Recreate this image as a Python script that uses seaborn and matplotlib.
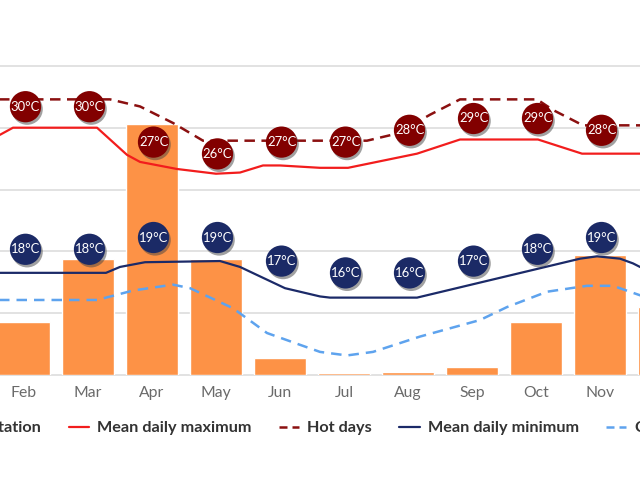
import numpy as np
import pandas as pd
import matplotlib
matplotlib.use("Agg")
import matplotlib.pyplot as plt
import matplotlib.patheffects as pe
from matplotlib.lines import Line2D
from matplotlib.patches import Patch
from matplotlib.transforms import offset_copy
import seaborn as sns

# ---------------- data ----------------
months = ["Jan", "Feb", "Mar", "Apr", "May", "Jun",
          "Jul", "Aug", "Sep", "Oct", "Nov", "Dec"]
precip_mm = [75, 42.6, 93.6, 202.8, 93.6, 13.5, 1.5, 2.7, 6.7, 42.6, 97.3, 55.3]

# labelled badge values (deg C), visible months Feb..Nov
badge_months = ["Feb", "Mar", "Apr", "May", "Jun", "Jul", "Aug", "Sep", "Oct", "Nov"]
max_labels = [30, 30, 27, 26, 27, 27, 28, 29, 29, 28]
min_labels = [18, 18, 19, 19, 17, 16, 16, 17, 18, 19]

# lines (x in month index, y in deg C)
max_x = [0.0, 0.625, 0.828, 2.141, 2.609, 2.813, 3.391, 4.0, 4.375, 4.734, 5.0,
         5.625, 6.063, 7.141, 7.813, 9.031, 9.719, 11.0]
max_t = [29.0, 29.4, 30.0, 30.0, 27.7, 27.1, 26.5, 26.1, 26.2, 26.8, 26.8,
         26.6, 26.6, 27.8, 29.0, 29.0, 27.8, 27.8]

hot_x = [0.0, 2.344, 2.813, 3.328, 3.797, 5.625, 6.359, 6.828, 7.344, 7.813,
         9.016, 9.266, 9.734, 11.0]
hot_t = [32.4, 32.4, 31.8, 30.4, 28.9, 28.9, 28.9, 29.5, 31.1, 32.4,
         32.4, 31.5, 30.2, 30.2]

min_x = [0.0, 2.281, 2.5, 2.891, 4.063, 4.375, 5.078, 5.625, 5.781, 7.141,
         9.688, 9.953, 10.313, 10.516, 10.625, 11.0]
min_t = [17.7, 17.7, 18.2, 18.6, 18.7, 18.2, 16.4, 15.7, 15.6, 15.6,
         18.9, 19.1, 18.9, 18.5, 18.2, 17.8]

cold_x = [0.0, 2.141, 2.703, 3.328, 3.594, 4.266, 4.797, 5.313, 5.625, 6.047,
          6.453, 7.188, 8.125, 8.547, 9.172, 9.797, 10.203, 10.625, 11.0]
cold_t = [15.4, 15.4, 16.2, 16.7, 16.4, 14.7, 12.6, 11.6, 11.0, 10.7,
          11.0, 12.3, 13.7, 14.8, 16.1, 16.6, 16.6, 15.8, 15.4]

legend_labels = ["Precipitation", "Mean daily maximum", "Hot days",
                 "Mean daily minimum", "Cold nights"]

# ---------------- style ----------------
C_BAR = "#fd9246"
C_MAX = "#f21d1d"
C_HOT = "#8b1010"
C_MIN = "#1b2a68"
C_COLD = "#5ea3ee"
C_BADGE_MAX = "#820000"
C_BADGE_MIN = "#1b2a66"

sns.set_theme(style="white")
plt.rcParams["font.family"] = ["Lato", "DejaVu Sans"]

W, H = 640, 480
fig = plt.figure(figsize=(W / 100, H / 100), dpi=100)
ax = fig.add_axes([0, (H - 375) / H, 1, 375 / H])
ax2 = ax.twinx()

idx = np.arange(len(months))
df = pd.DataFrame({"m": idx, "p": precip_mm})
sns.barplot(data=df, x="m", y="p", native_scale=True, color=C_BAR,
            saturation=1, width=0.8, ax=ax, zorder=2)

ax.set_xlim(0.625, 10.625)
ax.set_ylim(0, 375 / 61.8 * 50)
ax.set_yticks([0, 50, 100, 150, 200, 250])
ax.set_yticklabels([])
ax.set_xticks(idx)
ax.set_xticklabels(months)
ax.tick_params(axis="x", length=0, pad=8, labelsize=11.3, labelcolor="#6a6a6a")
ax.tick_params(axis="y", length=0)
ax.set_xlabel("")
ax.set_ylabel("")
ax.grid(axis="y", color="#e2e2e2", linewidth=1.4)
ax.set_axisbelow(True)
for gl in ax.get_ygridlines():
    gl.set_clip_on(False)
for s in ax.spines.values():
    s.set_visible(False)

# temperature axis
ax2.set_ylim(30 - (375 - 127.7) / 11.8, 30 + 127.7 / 11.8)
ax2.set_yticks([])
for s in ax2.spines.values():
    s.set_visible(False)

sns.lineplot(x=max_x, y=max_t, ax=ax2, color=C_MAX, linewidth=1.6,
             sort=False, estimator=None)
sns.lineplot(x=hot_x, y=hot_t, ax=ax2, color=C_HOT, linewidth=1.8,
             sort=False, estimator=None, linestyle=(0, (4.2, 2.6)))
sns.lineplot(x=min_x, y=min_t, ax=ax2, color=C_MIN, linewidth=1.6,
             sort=False, estimator=None)
sns.lineplot(x=cold_x, y=cold_t, ax=ax2, color=C_COLD, linewidth=1.8,
             sort=False, estimator=None, linestyle=(0, (4.2, 2.8)))
ax2.set_xlim(0.625, 10.625)

# badges
bidx = np.array([months.index(m) for m in badge_months])
shadow = [pe.SimplePatchShadow(offset=(1.2, -1.8), shadow_rgbFace="#444444", alpha=0.5),
          pe.Normal()]
tr_max = offset_copy(ax2.transData, fig=fig, x=1.5, y=21, units="dots")
tr_min = offset_copy(ax2.transData, fig=fig, x=1.5, y=20, units="dots")
for labels, col, tr in [(max_labels, C_BADGE_MAX, tr_max),
                        (min_labels, C_BADGE_MIN, tr_min)]:
    sc = ax2.scatter(bidx, labels, s=(22.5) ** 2, color=col, transform=tr,
                     zorder=5, linewidths=0, clip_on=True)
    sc.set_path_effects(shadow)
    for i, v in zip(bidx, labels):
        ax2.text(i, v, f"{v}°C", transform=tr, ha="center", va="center",
                 color="white", fontsize=9.4, zorder=6, clip_on=True)

# legend
handles = [Patch(color=C_BAR),
           Line2D([], [], color=C_MAX, linewidth=1.6),
           Line2D([], [], color=C_HOT, linewidth=1.8, linestyle=(0, (3.2, 2.0))),
           Line2D([], [], color=C_MIN, linewidth=1.6),
           Line2D([], [], color=C_COLD, linewidth=1.8, linestyle=(0, (3.2, 2.0)))]
leg = fig.legend(handles, legend_labels, loc="center left",
                 bbox_to_anchor=(0, 1 - 428 / H), ncol=5, frameon=False,
                 prop={"family": ["Lato", "DejaVu Sans"], "weight": "bold", "size": 11.7},
                 handlelength=1.25, handletextpad=0.5, columnspacing=1.68,
                 labelcolor="#333333")
fig.canvas.draw()
bb = leg.get_texts()[1].get_window_extent()
dx = 97 - bb.x0
leg.set_bbox_to_anchor((dx / W, 1 - 428 / H), transform=fig.transFigure)

fig.savefig("out.png", dpi=100)
